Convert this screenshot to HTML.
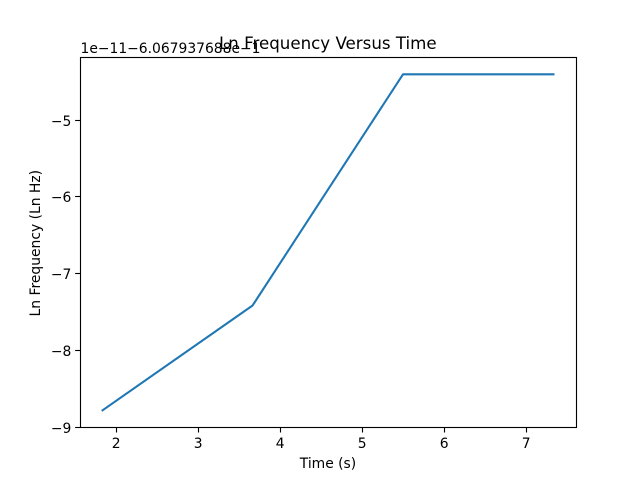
<!DOCTYPE html>
<html>
<head>
<meta charset="utf-8">
<title>Ln Frequency Versus Time</title>
<style>
html,body{margin:0;padding:0;background:#fff;width:640px;height:480px;overflow:hidden}
svg{display:block}
text{font-family:"DejaVu Sans","Liberation Sans",sans-serif;fill:#000}
</style>
</head>
<body>
<svg id="chart" xmlns="http://www.w3.org/2000/svg" width="640" height="480" viewBox="0 0 640 480">
  <rect x="0" y="0" width="640" height="480" fill="#fff"/>
  <g id="ticks"></g>
  <polyline id="series" fill="none" stroke="#1f77b4" stroke-width="2.08" stroke-linejoin="round" stroke-linecap="square"/>
  <rect x="80.5" y="57.5" width="496" height="370" fill="none" stroke="#000" stroke-width="1.11"/>
  <text x="80.5" y="53" font-size="13.89">1e−11−6.067937688e−1</text>
  <text x="327.8" y="49.2" font-size="16.67" text-anchor="middle">Ln Frequency Versus Time</text>
  <text x="328" y="468" font-size="13.89" text-anchor="middle">Time (s)</text>
  <text x="0" y="0" font-size="13.89" text-anchor="middle" transform="translate(40,243.2) rotate(-90)">Ln Frequency (Ln Hz)</text>
</svg>
<script>
const timeValues = [1.84, 3.67, 5.505, 7.34];
const lnFrequencyValues = [-8.78, -7.415, -4.405, -4.405];
const xTickValues = [2, 3, 4, 5, 6, 7];
const yTickValues = [-9, -8, -7, -6, -5];
const xDomain = [1.565, 7.615];
const yDomain = [-9, -4.1875];
const plotBox = {left: 80, right: 576, top: 57.6, bottom: 427.2};

function xScale(v) {
  return plotBox.left + (v - xDomain[0]) / (xDomain[1] - xDomain[0]) * (plotBox.right - plotBox.left);
}
function yScale(v) {
  return plotBox.bottom - (v - yDomain[0]) / (yDomain[1] - yDomain[0]) * (plotBox.bottom - plotBox.top);
}

const NS = 'http://www.w3.org/2000/svg';
const tickLayer = document.getElementById('ticks');

document.getElementById('series').setAttribute('points',
  timeValues.map((t, i) => xScale(t).toFixed(2) + ',' + yScale(lnFrequencyValues[i]).toFixed(2)).join(' '));

xTickValues.forEach(function (v) {
  const x = Math.round(xScale(v)) + 0.5;
  const mark = document.createElementNS(NS, 'line');
  
  
  mark.setAttribute('x1', x);
  mark.setAttribute('x2', x);
  mark.setAttribute('y1', plotBox.bottom);
  mark.setAttribute('y2', plotBox.bottom + 5.3);
  mark.setAttribute('stroke', '#000');
  mark.setAttribute('stroke-width', '1.11');
  tickLayer.appendChild(mark);
  const label = document.createElementNS(NS, 'text');
  
  
  label.setAttribute('x', x - 0.3);
  label.setAttribute('y', 448);
  label.setAttribute('font-size', '13.89');
  label.setAttribute('text-anchor', 'middle');
  label.textContent = String(v);
  tickLayer.appendChild(label);
});

yTickValues.forEach(function (v) {
  const y = Math.floor(yScale(v) + 0.01) + 0.5;
  const mark = document.createElementNS(NS, 'line');
  
  
  mark.setAttribute('x1', plotBox.left - 4.86);
  mark.setAttribute('x2', plotBox.left);
  mark.setAttribute('y1', y);
  mark.setAttribute('y2', y);
  mark.setAttribute('stroke', '#000');
  mark.setAttribute('stroke-width', '1.11');
  tickLayer.appendChild(mark);
  const label = document.createElementNS(NS, 'text');
  
  
  label.setAttribute('x', plotBox.left - 8.7);
  label.setAttribute('y', y + 5.5);
  label.setAttribute('font-size', '13.89');
  label.setAttribute('text-anchor', 'end');
  label.textContent = '\u2212' + Math.abs(v);
  tickLayer.appendChild(label);
});
</script>
</body>
</html>
